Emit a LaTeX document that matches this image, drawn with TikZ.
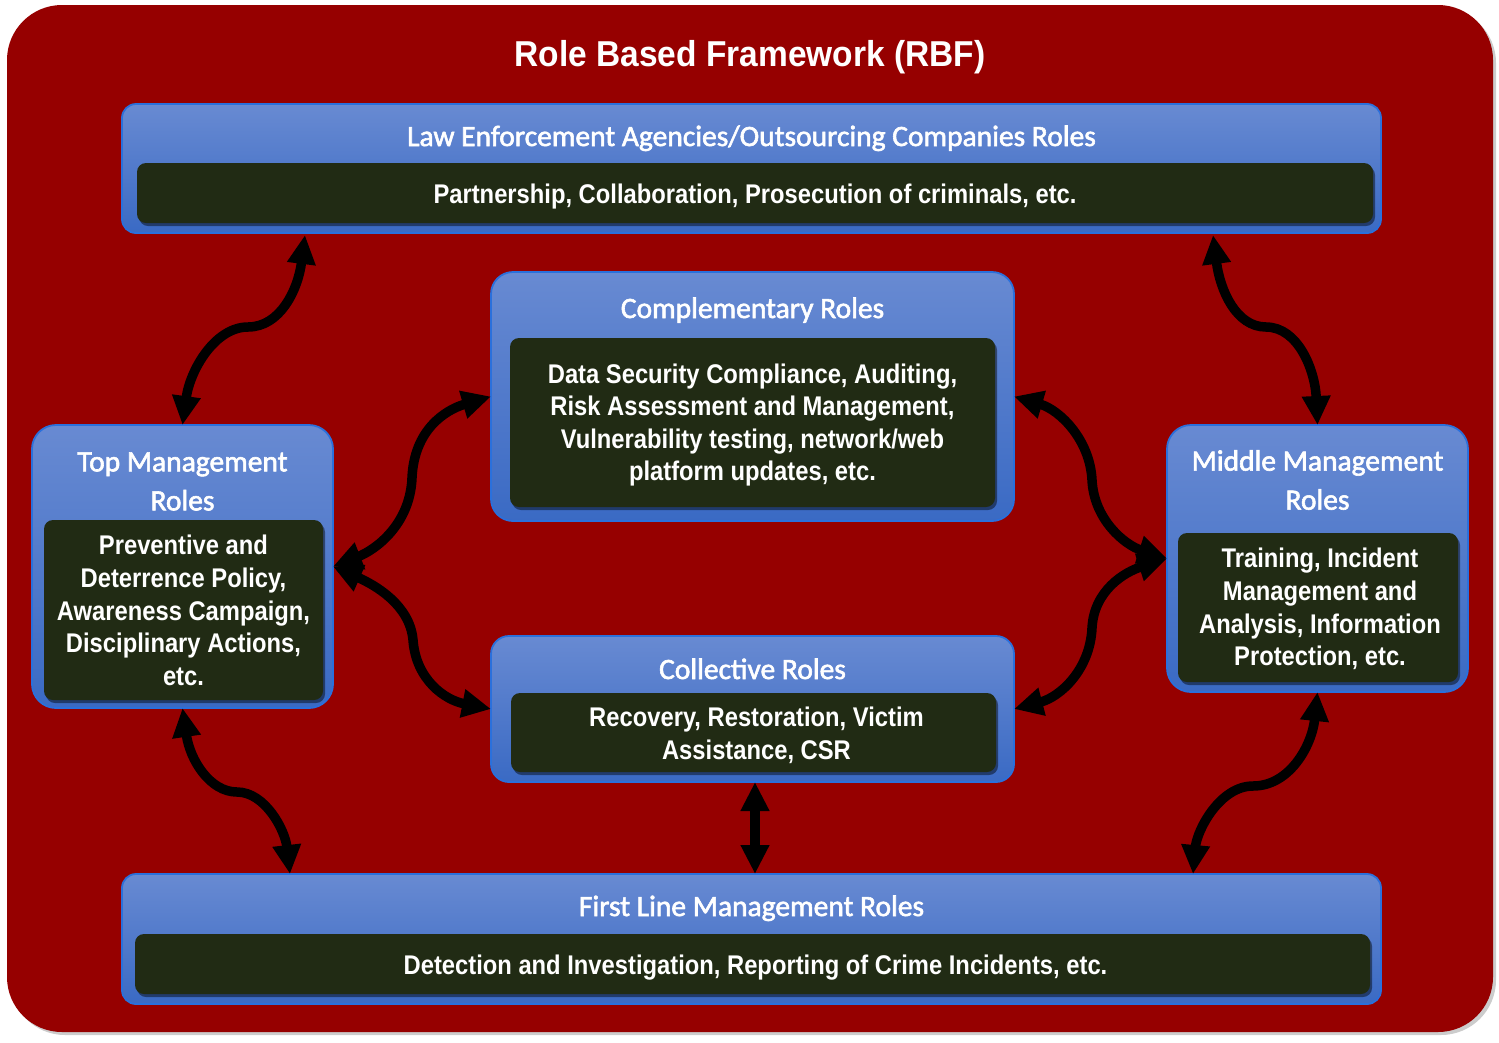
\documentclass[tikz,border=0pt]{standalone}
\usepackage{fontspec}
\usetikzlibrary{arrows.meta,shadows,calc}
\newfontfamily\rbftitle{Liberation Sans}[FakeStretch=0.93]
\newfontfamily\rbfbody{Liberation Sans}[FakeStretch=0.88]
\newfontfamily\rbfhead{Carlito}[FakeBold=2]
\definecolor{framered}{RGB}{150,0,0}
\definecolor{bTop}{RGB}{104,138,210}
\definecolor{bBot}{RGB}{58,106,196}
\definecolor{bEdge}{RGB}{42,112,220}
\definecolor{dk}{RGB}{33,43,20}
\begin{document}
\begin{tikzpicture}[x=1pt,y=-1pt,
  bluebox/.style={rounded corners=#1, top color=bTop, bottom color=bBot, draw=bEdge, line width=1.8pt, inner sep=0pt, outer sep=0pt},
  bluebox/.default=14pt,
  darkbox/.style={fill=dk, rounded corners=9pt, inner sep=0pt,
    drop shadow={shadow xshift=2pt, shadow yshift=-3pt, fill=black, opacity=0.45}},
  bodytext/.style={align=center, text=white, inner sep=0pt,
    font=\rbfbody\bfseries\fontsize{27}{32.6}\selectfont},
  head/.style={text=white, font=\rbfhead\fontsize{29.5}{39}\selectfont, align=center, inner sep=0pt},
  link/.style={line width=9.5pt, {Triangle[length=29pt,width=27pt]}-{Triangle[length=29pt,width=27pt]}}
]
\useasboundingbox (0,0) rectangle (1499,1042);
\node[fill=framered, rounded corners=55pt, minimum width=1486pt, minimum height=1027pt, inner sep=0pt,
  drop shadow={shadow xshift=3pt, shadow yshift=-3pt, fill=black, opacity=0.2}] (frame) at (750,518.5) {};
\node[font=\rbftitle\bfseries\fontsize{36}{40}\selectfont, text=white, anchor=base, inner sep=0pt] (title) at (750,66) {Role Based Framework (RBF)};

% Law enforcement
\node[bluebox=14pt, minimum width=1259pt, minimum height=129pt] (law) at (751.5,168.5) {};
\node[head, anchor=base] (lawhead) at (751.5,146) {Law Enforcement Agencies/Outsourcing Companies Roles};
\node[darkbox, minimum width=1236pt, minimum height=60pt] (lawbox) at (755,193) {};
\node[bodytext] (lawtxt) at ($(lawbox.center)+(0,3.5)$) {Partnership, Collaboration, Prosecution of criminals, etc.};

% Complementary
\node[bluebox=22pt, minimum width=523pt, minimum height=249pt] (comp) at (752.5,396.5) {};
\node[head, anchor=base] (comphead) at (752.5,318) {Complementary Roles};
\node[darkbox, minimum width=485pt, minimum height=169pt] (compbox) at (752.5,422.5) {};
\node[bodytext] (comptxt) at ($(compbox.center)+(0,2.5)$) {Data Security Compliance, Auditing,\\Risk Assessment and Management,\\Vulnerability testing, network/web\\platform updates, etc.};

% Top management
\node[bluebox=24pt, minimum width=301pt, minimum height=283pt] (top) at (182.5,566.5) {};
\node[head] (tophead) at (182.5,481.5) {Top Management\\Roles};
\node[darkbox, minimum width=279pt, minimum height=180pt] (topbox) at (183.5,610) {};
\node[bodytext] (toptxt) at ($(topbox.center)+(0,0.5)$) {Preventive and\\Deterrence Policy,\\Awareness Campaign,\\Disciplinary Actions,\\etc.};

% Middle management
\node[bluebox=24pt, minimum width=301pt, minimum height=267pt] (mid) at (1317.5,558.5) {};
\node[head] (midhead) at (1317.5,480) {Middle Management\\Roles};
\node[darkbox, minimum width=280pt, minimum height=149pt] (midbox) at (1318,607.5) {};
\node[bodytext] (midtxt) at ($(midbox.center)+(2,1.5)$) {Training, Incident\\Management and\\Analysis, Information\\Protection, etc.};

% Collective
\node[bluebox=18pt, minimum width=523pt, minimum height=146pt] (coll) at (752.5,709) {};
\node[head, anchor=base] (collhead) at (752.5,679) {Collective Roles};
\node[darkbox, minimum width=485pt, minimum height=79pt] (collbox) at (753.5,732.5) {};
\node[bodytext] (colltxt) at ($(collbox.center)+(3,2.5)$) {Recovery, Restoration, Victim\\Assistance, CSR};

% First line
\node[bluebox=14pt, minimum width=1259pt, minimum height=130pt] (first) at (751.5,939) {};
\node[head, anchor=base] (firsthead) at (751.5,916) {First Line Management Roles};
\node[darkbox, minimum width=1235pt, minimum height=60pt] (firstbox) at (752.5,964) {};
\node[bodytext] (firsttxt) at ($(firstbox.center)+(3,4)$) {Detection and Investigation, Reporting of Crime Incidents, etc.};

% connectors
\draw[link] ($(law.south west)+(183,2)$) .. controls (298,290) and (280,327) .. (248,327) .. controls (215,327) and (190,370) .. (top.north);
\draw[link] ($(law.south west)+(1091,2)$) .. controls (1220,290) and (1236,327) .. (1266,327) .. controls (1298,327) and (1315,370) .. (mid.north);
\draw[link] (top.south) .. controls (190,760) and (210,792) .. (237,792) .. controls (265,792) and (285,830) .. ($(first.north west)+(168,0)$);
\draw[link] (mid.south) .. controls (1312,745) and (1290,786) .. (1253,786) .. controls (1220,786) and (1197,830) .. ($(first.north west)+(1071,0)$);
\draw[link] (top.east) .. controls (375,550) and (410,525) .. (412,478) .. controls (414,430) and (445,410) .. (comp.west);
\draw[link] (top.east) .. controls (375,585) and (410,605) .. (413,640) .. controls (416,680) and (445,700) .. (coll.west);
\draw[link] (comp.east) .. controls (1060,410) and (1090,440) .. (1092,480) .. controls (1094,520) and (1125,545) .. (mid.west);
\draw[link] (coll.east) .. controls (1060,697) and (1090,670) .. (1092,628) .. controls (1094,590) and (1125,572) .. (mid.west);
\draw[link] ($(coll.south)+(2.5,0)$) -- ($(first.north)+(3.5,0)$);
\end{tikzpicture}
\end{document}
